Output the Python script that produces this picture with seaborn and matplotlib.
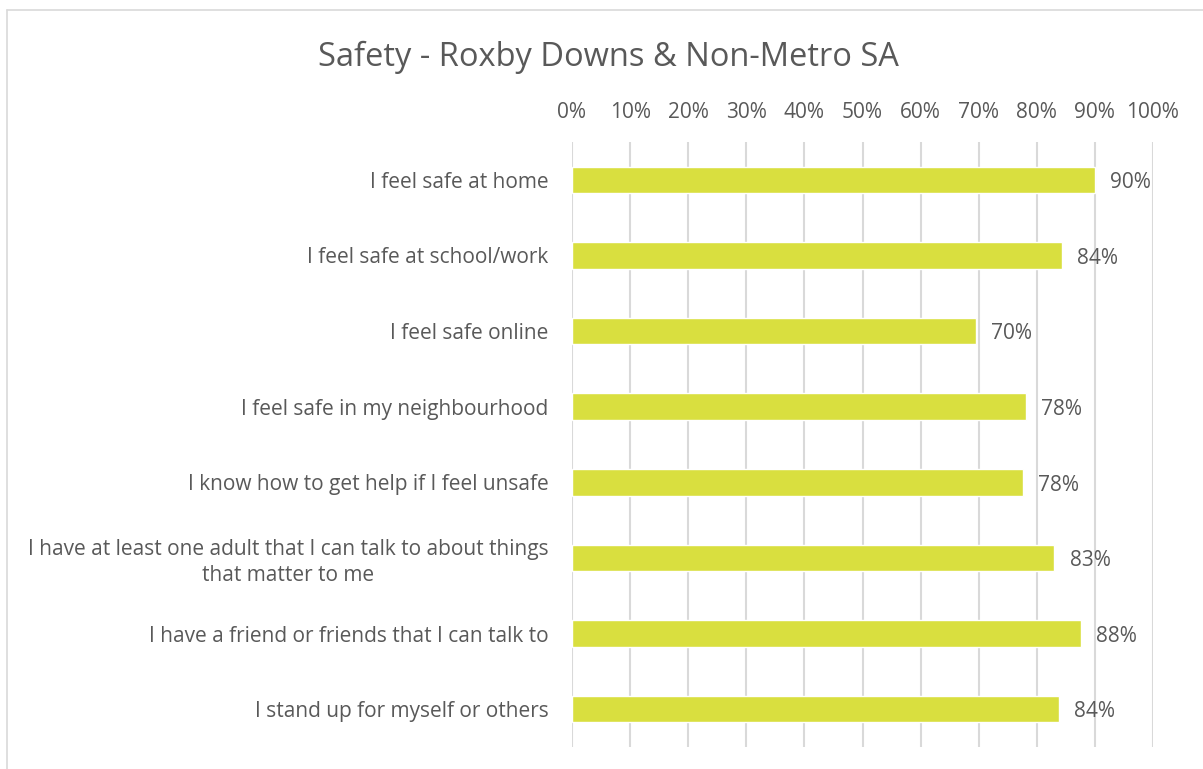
import matplotlib
matplotlib.use("Agg")
import matplotlib.pyplot as plt
import seaborn as sns
import pandas as pd
from matplotlib.lines import Line2D

# values
statements = [
    "I feel safe at home",
    "I feel safe at school/work",
    "I feel safe online",
    "I feel safe in my neighbourhood",
    "I know how to get help if I feel unsafe",
    "I have at least one adult that I can talk to about things\nthat matter to me",
    "I have a friend or friends that I can talk to",
    "I stand up for myself or others",
]
shares = [0.900, 0.843, 0.695, 0.781, 0.776, 0.830, 0.876, 0.838]
ticks = [i / 10 for i in range(11)]
tick_labels = [f"{int(t * 100)}%" for t in ticks]

df = pd.DataFrame({"statement": statements, "share": shares})

sns.set_style("white")
plt.rcParams["font.family"] = ["Open Sans", "DejaVu Sans"]
text_col = "#595959"
fs = 15

fig = plt.figure(figsize=(12.03, 7.69), dpi=100)
ax = fig.add_axes([572 / 1203, 1 - 747 / 769, 581 / 1203, 605 / 769])

sns.barplot(data=df, x="share", y="statement", color="#D9DF3F", width=0.35,
            saturation=1, ax=ax, zorder=3)

ax.set_xlim(0, 1)
ax.set_ylim(7.5, -0.5)
ax.set_xticks(ticks)
ax.set_xticklabels(tick_labels)
ax.xaxis.tick_top()
ax.grid(axis="x", color="#D9D9D9", linewidth=1.5, zorder=0)
ax.grid(axis="y", visible=False)
for s in ax.spines.values():
    s.set_visible(False)
ax.tick_params(axis="x", length=0, pad=14, labelsize=fs, labelcolor=text_col)
ax.tick_params(axis="y", length=0, pad=17, labelsize=fs, labelcolor=text_col)
for lbl in ax.get_yticklabels():
    lbl.set_multialignment("center")
    lbl.set_linespacing(1.3)
ax.set_xlabel("")
ax.set_ylabel("")

labels = ax.bar_label(ax.containers[0], labels=[f"{round(v * 100)}%" for v in shares],
                      padding=11, fontsize=fs, color=text_col)
# nudge the value labels a little down (offset is in points)
for t in labels:
    t.set_y(t.get_position()[1] - 2)

fig.suptitle("Safety - Roxby Downs & Non-Metro SA", x=608 / 1203, y=1 - 57 / 769,
             va="center", fontsize=23.5, color=text_col)

# chart area border
fig.add_artist(Line2D([7 / 1203, 7 / 1203], [0, 1 - 10 / 769], color="#D9D9D9",
                      linewidth=1.2, transform=fig.transFigure))
fig.add_artist(Line2D([7 / 1203, 1], [1 - 10 / 769, 1 - 10 / 769], color="#D9D9D9",
                      linewidth=1.2, transform=fig.transFigure))

fig.savefig("out.png", dpi=100)
